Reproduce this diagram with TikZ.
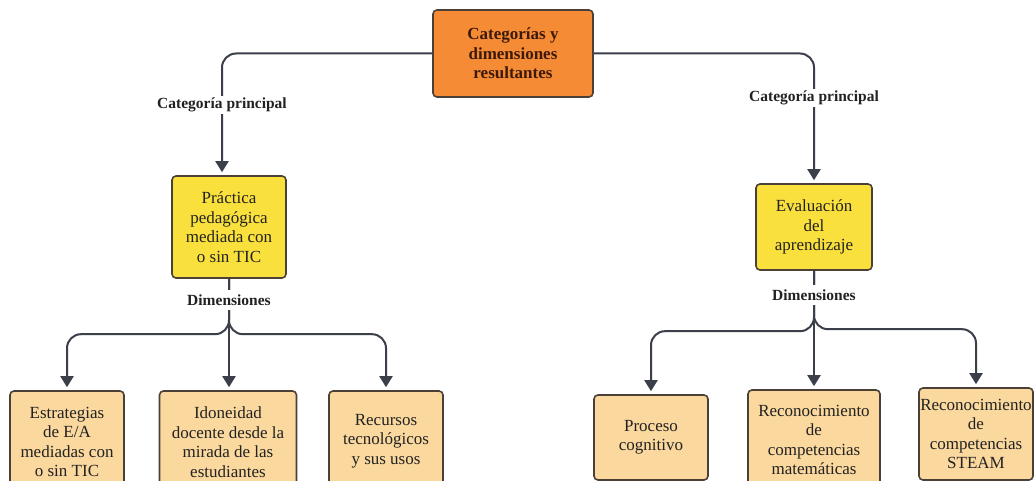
\documentclass[tikz,border=0pt]{standalone}
\usepackage{fontspec}
\setmainfont{Liberation Serif}
\usetikzlibrary{arrows.meta}
\definecolor{lineC}{HTML}{3B3F4A}
\definecolor{orangeC}{HTML}{F68B36}
\definecolor{yellowC}{HTML}{FAE03C}
\definecolor{peachC}{HTML}{FAD89E}
\definecolor{borderC}{HTML}{4A4038}
\definecolor{brownT}{HTML}{3D1A08}
\definecolor{textC}{HTML}{222222}
\tikzset{
  box/.style={draw=borderC, line width=1.6pt, rounded corners=4pt, align=center,
    font=\fontsize{17}{19.5}\selectfont, text=textC, inner sep=0pt},
  topbox/.style={box, fill=orangeC, text=brownT, font=\bfseries\fontsize{17}{19.5}\selectfont,
    minimum width=160pt, minimum height=87pt},
  catbox/.style={box, fill=yellowC},
  dimbox/.style={box, fill=peachC},
  conn/.style={draw=lineC, line width=2pt, rounded corners=14pt},
  arr/.style={conn, -{Triangle[width=13pt,length=11pt]}, shorten >=3pt},
  lbl/.style={fill=white, font=\bfseries\fontsize{15.5}{18}\selectfont, text=textC, inner sep=2pt}
}
\begin{document}
\begin{tikzpicture}[x=1pt,y=-1pt]
\useasboundingbox (0,0) rectangle (1034,481);
\clip (0,0) rectangle (1034,481);
\fill[white] (0,0) rectangle (1034,481);

% nodes
\node[topbox] (top) at (513,53.5) {Categorías y\\dimensiones\\resultantes};
\node[catbox, minimum width=114pt, minimum height=102pt] (pp) at (229,227) {Práctica\\pedagógica\\mediada con\\o sin TIC};
\node[catbox, minimum width=116pt, minimum height=86pt] (ev) at (814,227) {Evaluación\\del\\aprendizaje};

\node[dimbox, minimum width=114pt, minimum height=102pt] (e1) at (67,442) {Estrategias\\de E/A\\mediadas con\\o sin TIC};
\node[dimbox, minimum width=137pt, minimum height=102pt] (e2) at (228,442) {Idoneidad\\docente desde la\\mirada de las\\estudiantes};
\node[dimbox, minimum width=114pt, minimum height=100pt] (e3) at (386,441) {Recursos\\tecnológicos\\y sus usos};

\node[dimbox, minimum width=114pt, minimum height=85pt] (r1) at (651,437.5) {Proceso\\cognitivo};
\node[dimbox, minimum width=132pt, minimum height=100pt] (r2) at (814,440) {Reconocimiento\\de\\competencias\\matemáticas};
\node[dimbox, minimum width=114pt, minimum height=92pt] (r3) at (976,434) {Reconocimiento\\de\\competencias\\STEAM};

% connectors: category level
\draw[arr] (top.west) -| ([xshift=-7pt]pp.north);
\draw[arr] (top.east) -| (ev.north);

% connectors: dimensions left
\draw[arr] (pp.south) |- ([yshift=56pt]e1.north) -- (e1.north);
\draw[arr] (pp.south) -- (pp.south |- e2.north);
\draw[arr] (pp.south) |- ([yshift=56pt]e3.north) -- (e3.north);

% connectors: dimensions right
\draw[arr] (ev.south) |- ([yshift=63pt]r1.north) -- (r1.north);
\draw[arr] (ev.south) -- (r2.north);
\draw[arr] (ev.south) |- ([yshift=58pt]r3.north) -- (r3.north);

% labels on connectors
\node[lbl] (cpL) at (222,105) {Categoría principal};
\node[lbl] (cpR) at (814,98) {Categoría principal};
\node[lbl, inner ysep=5pt] (dimL) at (229,300) {Dimensiones};
\node[lbl, inner ysep=5pt] (dimR) at (814,295) {Dimensiones};
\end{tikzpicture}
\end{document}
